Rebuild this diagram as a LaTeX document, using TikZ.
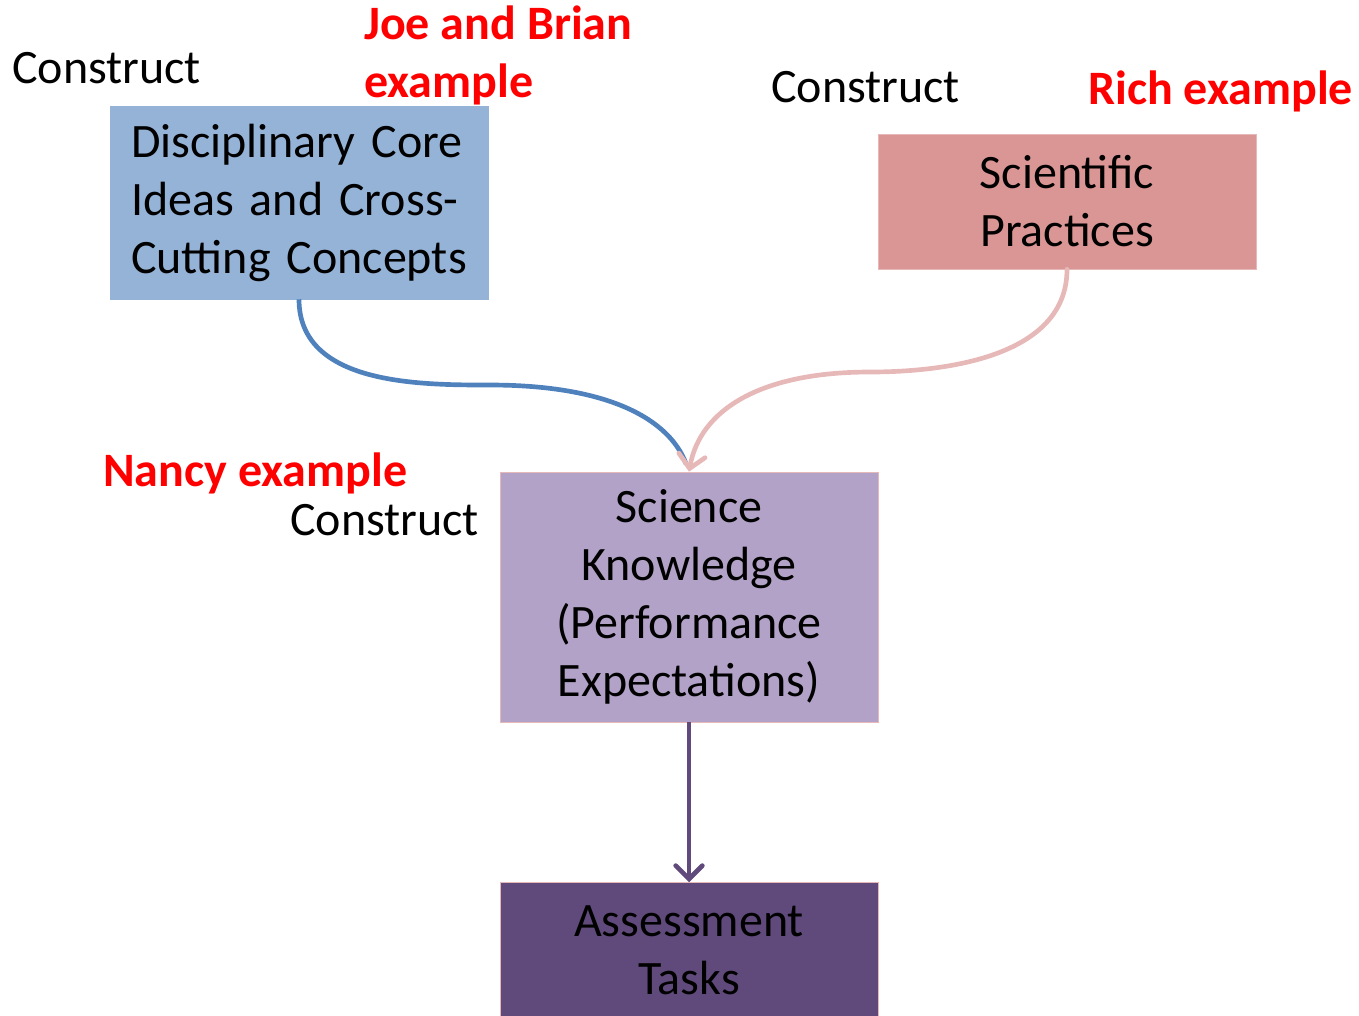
\documentclass[tikz,border=0pt]{standalone}
\usepackage{fontspec}
\setmainfont{Carlito}
\usetikzlibrary{arrows.meta}
\definecolor{dciblue}{HTML}{95B3D7}
\definecolor{spred}{HTML}{D99694}
\definecolor{skpurple}{HTML}{B3A2C7}
\definecolor{atpurple}{HTML}{604A7B}
\definecolor{pinkline}{HTML}{E6B9B8}
\definecolor{blueline}{HTML}{4F81BD}

\begin{document}
\begin{tikzpicture}
    [
      x=0.75pt, y=-0.75pt,
      every node/.style={font=\fontsize{36}{43.5}\selectfont},
      box/.style={rectangle, minimum width=283.5pt, inner sep=0pt, align=center},
      label/.style={inner sep=0pt, anchor=west},
      redlabel/.style={label, text=red, font=\fontsize{36}{43.5}\selectfont\bfseries, align=left},
      barb/.style={-{Straight Barb[length=10pt, width=20pt, line cap=round]}}
    ]
    \clip (0,0) rectangle (1359,1015);
    \useasboundingbox (0,0) rectangle (1359,1015);
    \node [box, fill=dciblue, draw=dciblue, minimum height=144.75pt, text width=252pt, align=left] (dci) at (299,202.5)
      {\raisebox{-3pt}{\parbox{252pt}{Disciplinary Core\\Ideas and Cross-\\Cutting Concepts}}};
    \node [box, fill=spred, draw=pinkline, minimum height=101.25pt] (sp) at (1067,201.5)
      {Scientific\\Practices};
    \node [box, fill=skpurple, draw=pinkline, minimum height=187.5pt] (sk) at (689,597)
      {Science\\Knowledge\\(Performance\\Expectations)};
    \node [box, fill=atpurple, draw=pinkline, minimum height=102pt] (at) at (689,950.5)
      {Assessment\\Tasks};
    \node [label] (c1) at (12,68) {Construct};
    \node [label] (c2) at (771,87) {Construct};
    \node [label] (c3) at (290,520) {Construct};
    \node [redlabel] (joe) at (364,55) {Joe and Brian\\example};
    \node [redlabel] (rich) at (1088,91) {Rich example};
    \node [redlabel] (nancy) at (103,473) {Nancy example};
    \draw [blueline, line width=3.5pt, shorten >=6pt]
      (dci.south) .. controls (299,385) and (420,385) .. (490,385)
      .. controls (610,385) and (670,420) .. (sk.north);
    \draw [pinkline, line width=3.5pt, line cap=round, barb]
      (sp.south) .. controls (1067,355) and (950,372) .. (870,372)
      .. controls (760,372) and (700,410) .. (sk.north);
    \draw [atpurple, line width=3.5pt, barb]
      (sk.south) -- (at.north);
  \end{tikzpicture}
\end{document}
